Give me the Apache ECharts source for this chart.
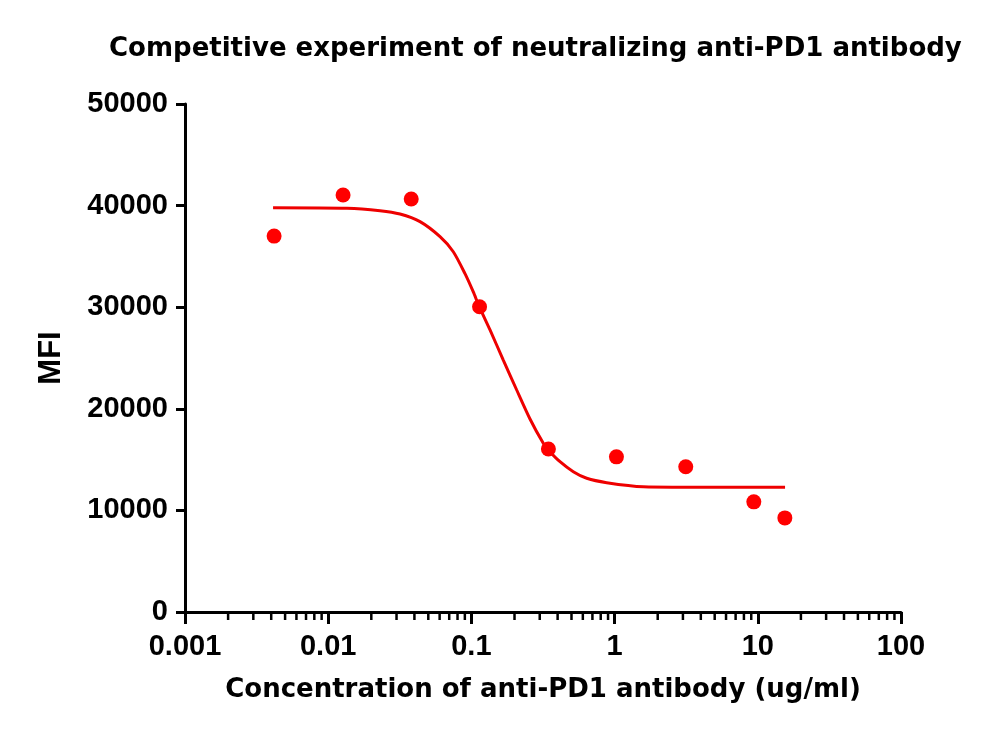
<!DOCTYPE html>
<html>
<head>
<meta charset="utf-8">
<script src="https://cdn.jsdelivr.net/npm/echarts@6/dist/echarts.min.js"></script>
<style>html,body{margin:0;padding:0;background:#fff}#c{width:1000px;height:738px}</style>
</head>
<body>
<div id="c"></div>
<script>
// measured points
var concentrations = [0.00419, 0.0127, 0.0380, 0.114, 0.345, 1.03, 3.14, 9.38, 15.45];
var mfiValues = [37000, 41050, 40650, 30050, 16050, 15270, 14290, 10840, 9260];
// fitted curve
var fitX = [0.00412, 0.01353, 0.0230, 0.03173, 0.04377, 0.06037, 0.07473, 0.09022, 0.1031, 0.1135, 0.1349, 0.1670, 0.2072, 0.2566, 0.3177, 0.3443, 0.4157, 0.5148, 0.6385, 0.881, 1.586, 5.45, 15.5];
var fitY = [39800, 39750, 39500, 39170, 38420, 36940, 35460, 33300, 31500, 30050, 27760, 24800, 21850, 19000, 16600, 15950, 14790, 13810, 13160, 12730, 12330, 12270, 12270];
// axis ticks
var xTickLabels = ['0.001', '0.01', '0.1', '1', '10', '100'];
var yTickLabels = ['0', '10000', '20000', '30000', '40000', '50000'];
var minorMultipliers = [2, 3, 4, 5, 6, 7, 8, 9];
var decades = [0.001, 0.01, 0.1, 1, 10];

var minorTicks = [];
decades.forEach(function (d) { minorMultipliers.forEach(function (m) { minorTicks.push([+(d * m).toPrecision(3), 0]); }); });

var chart = echarts.init(document.getElementById('c'), null, {renderer: 'canvas'});
chart.setOption({
  animation: false,
  backgroundColor: '#ffffff',
  title: {
    text: 'Competitive experiment of neutralizing anti-PD1 antibody',
    left: 104, top: 31,
    textStyle: {fontFamily: 'DejaVu Sans', fontWeight: 'bold', fontSize: 26, color: '#000'}
  },
  grid: {left: 185, right: 99, top: 104, bottom: 126, containLabel: false},
  xAxis: {
    type: 'log', logBase: 10, min: 0.001, max: 100,
    name: 'Concentration of anti-PD1 antibody (ug/ml)',
    nameLocation: 'middle', nameGap: 65,
    nameTextStyle: {fontFamily: 'DejaVu Sans', fontWeight: 'bold', fontSize: 26, color: '#000'},
    axisLine: {lineStyle: {color: '#000', width: 3}},
    axisTick: {show: true, length: 12, lineStyle: {color: '#000', width: 3}},
    splitLine: {show: false},
    axisLabel: {
      margin: 20,
      fontFamily: 'Liberation Sans', fontWeight: 'bold', fontSize: 29, color: '#000',
      formatter: function (v) {
        var e = Math.round(Math.log10(v)) + 3;
        return xTickLabels[e] !== undefined ? xTickLabels[e] : '';
      }
    }
  },
  yAxis: {
    type: 'value', min: 0, max: 50000, interval: 10000,
    name: 'MFI', nameLocation: 'middle', nameGap: 118, nameRotate: 90,
    nameTextStyle: {fontFamily: 'Liberation Sans', fontWeight: 'bold', fontSize: 31, color: '#000'},
    axisLine: {show: true, lineStyle: {color: '#000', width: 3}},
    axisTick: {show: true, length: 9, lineStyle: {color: '#000', width: 3}},
    splitLine: {show: false},
    axisLabel: {
      margin: 17,
      fontFamily: 'Liberation Sans', fontWeight: 'bold', fontSize: 29, color: '#000',
      formatter: function (v) { return yTickLabels[Math.round(v / 10000)]; }
    }
  },
  series: [
    {
      type: 'custom', coordinateSystem: 'cartesian2d', silent: true, clip: false,
      data: minorTicks,
      renderItem: function (params, api) {
        var p = api.coord([api.value(0), 0]);
        return {type: 'line', shape: {x1: p[0], y1: p[1], x2: p[0], y2: p[1] + 8},
          style: {stroke: '#000', lineWidth: 2.5}};
      }
    },
    {
      type: 'line', data: fitX.map(function (x, i) { return [x, fitY[i]]; }),
      smooth: 0.25, showSymbol: false, symbol: 'none',
      lineStyle: {color: '#ee0000', width: 3}, z: 3
    },
    {
      type: 'scatter', data: concentrations.map(function (x, i) { return [x, mfiValues[i]]; }),
      symbol: 'circle', symbolSize: 15,
      itemStyle: {color: '#ff0000', opacity: 1}, z: 4
    }
  ]
});
</script>
</body>
</html>
